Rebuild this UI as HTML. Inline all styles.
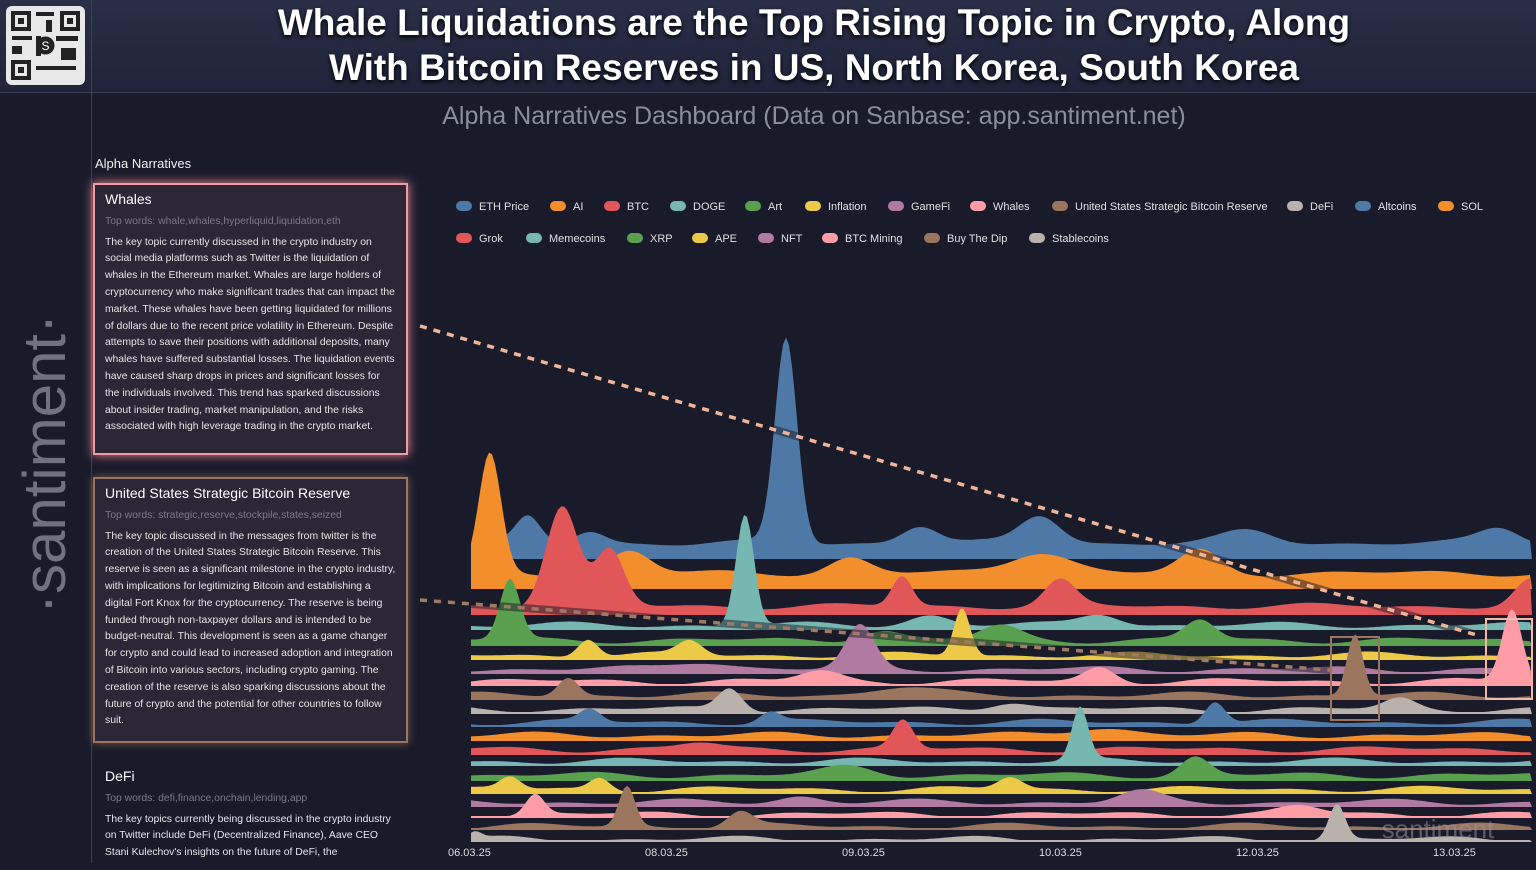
<!DOCTYPE html>
<html><head><meta charset="utf-8"><style>
*{margin:0;padding:0;box-sizing:border-box}
body{width:1536px;height:863px;overflow:hidden;background:#191b2b;font-family:"Liberation Sans",sans-serif;position:relative;color:#ddd}
.hdr{position:absolute;left:0;top:0;width:1536px;height:93px;background:linear-gradient(#2a2e46,#20233a);border-bottom:1px solid #3c4058}
.vl{position:absolute;left:91px;top:0;width:1px;height:863px;background:#3c4058}
.title{position:absolute;left:92px;width:1444px;top:0;text-align:center;color:#fff;font-weight:bold;font-size:37px;line-height:45px;text-shadow:0 2px 4px #000}
.qr{position:absolute;left:6px;top:6px;width:79px;height:79px;background:#e8e8e8;border-radius:6px}
.sub{position:absolute;left:92px;width:1444px;top:102px;text-align:center;color:#8b8e9c;font-size:25px}
.san{position:absolute;left:-105px;top:428px;transform:rotate(-90deg);font-size:60px;line-height:72px;color:#707282;width:300px;text-align:center}
.an{position:absolute;left:95px;top:156px;font-size:13px;color:#eee}
.card{position:absolute;left:93px;width:315px;padding:6px 10px;background:#2b2737;font-size:10.4px;line-height:16.8px;color:#e6e6e6}
.card h3{font-weight:normal;font-size:14px;margin:0 0 6px;color:#fff}
.card .tw{color:#7c7a88;margin-bottom:4px}
.lg{position:absolute;font-size:11px;color:#e0e0e0;white-space:nowrap}
.lg i{display:inline-block;width:16px;height:10px;border-radius:5px;margin-right:7px;vertical-align:-1px}
.tick{position:absolute;top:847px;font-size:11px;color:#ddd}
</style></head><body>
<div class="hdr"></div><div class="vl"></div>
<div class="qr"><svg width="79" height="79"><g fill="#222"><rect x="5" y="5" width="20" height="20"/><rect x="54" y="5" width="20" height="20"/><rect x="5" y="54" width="20" height="20"/></g><g fill="#e8e8e8"><rect x="9" y="9" width="12" height="12"/><rect x="58" y="9" width="12" height="12"/><rect x="9" y="58" width="12" height="12"/></g><g fill="#222"><rect x="12" y="12" width="6" height="6"/><rect x="61" y="12" width="6" height="6"/><rect x="12" y="61" width="6" height="6"/><rect x="30" y="6" width="18" height="4"/><rect x="30" y="30" width="5" height="20"/><rect x="6" y="30" width="20" height="4"/><rect x="50" y="30" width="22" height="5"/><rect x="30" y="60" width="40" height="4"/><rect x="40" y="14" width="6" height="12"/><rect x="6" y="40" width="10" height="8"/><rect x="55" y="42" width="15" height="12"/></g><circle cx="39.5" cy="39.5" r="9" fill="#222"/><text x="39.5" y="44" font-size="12" fill="#fff" text-anchor="middle">S</text></svg></div>
<div class="title">Whale Liquidations are the Top Rising Topic in Crypto, Along<br>With Bitcoin Reserves in US, North Korea, South Korea</div>
<div class="sub">Alpha Narratives Dashboard (Data on Sanbase: app.santiment.net)</div>
<div class="san">·santiment·</div>
<div class="an">Alpha Narratives</div>
<div class="card" style="top:183px;height:272px;border:2px solid #f29aa3;box-shadow:0 0 10px #f08a94">
<h3>Whales</h3><div class="tw">Top words: whale,whales,hyperliquid,liquidation,eth</div>
The key topic currently discussed in the crypto industry on social media platforms such as Twitter is the liquidation of whales in the Ethereum market. Whales are large holders of cryptocurrency who make significant trades that can impact the market. These whales have been getting liquidated for millions of dollars due to the recent price volatility in Ethereum. Despite attempts to save their positions with additional deposits, many whales have suffered substantial losses. The liquidation events have caused sharp drops in prices and significant losses for the individuals involved. This trend has sparked discussions about insider trading, market manipulation, and the risks associated with high leverage trading in the crypto market.</div>
<div class="card" style="top:477px;height:266px;border:2px solid #9c755f;box-shadow:0 0 8px #7a5a48">
<h3>United States Strategic Bitcoin Reserve</h3><div class="tw">Top words: strategic,reserve,stockpile,states,seized</div>
The key topic discussed in the messages from twitter is the creation of the United States Strategic Bitcoin Reserve. This reserve is seen as a significant milestone in the crypto industry, with implications for legitimizing Bitcoin and establishing a digital Fort Knox for the cryptocurrency. The reserve is being funded through non-taxpayer dollars and is intended to be budget-neutral. This development is seen as a game changer for crypto and could lead to increased adoption and integration of Bitcoin into various sectors, including crypto gaming. The creation of the reserve is also sparking discussions about the future of crypto and the potential for other countries to follow suit.</div>
<div class="card" style="top:760px;height:110px;background:transparent;border:2px solid transparent">
<h3>DeFi</h3><div class="tw">Top words: defi,finance,onchain,lending,app</div>
The key topics currently being discussed in the crypto industry on Twitter include DeFi (Decentralized Finance), Aave CEO Stani Kulechov's insights on the future of DeFi, the</div>
<div id="lgd"></div>
<svg id="ch" width="1536" height="863" style="position:absolute;left:0;top:0"></svg>
<div class="tick" style="left:448px">06.03.25</div><div class="tick" style="left:645px">08.03.25</div><div class="tick" style="left:842px">09.03.25</div><div class="tick" style="left:1039px">10.03.25</div><div class="tick" style="left:1236px">12.03.25</div><div class="tick" style="left:1433px">13.03.25</div>
<script>
var C=["#4e79a7","#f28e2b","#e15759","#76b7b2","#59a14f","#edc948","#b07aa1","#ff9da7","#9c755f","#bab0ac"];
var names=["ETH Price","AI","BTC","DOGE","Art","Inflation","GameFi","Whales","United States Strategic Bitcoin Reserve","DeFi","Altcoins","SOL","Grok","Memecoins","XRP","APE","NFT","BTC Mining","Buy The Dip","Stablecoins"];
var lx=[456,550,604,670,745,805,888,970,1052,1287,1355,1438,456,526,627,692,758,822,924,1029];
var h="";for(var i=0;i<20;i++){h+='<div class="lg" style="left:'+lx[i]+'px;top:'+(i<12?201:233)+'px"><i style="background:'+C[i%10]+'"></i>'+names[i]+'</div>';}
document.getElementById("lgd").innerHTML=h;
var base=[559,589,615,630,646,660,674,686,700,714,727,741,755,766,781,794,807,818,830,842];
var thick=[16,16,9,5,6,5,5,5,5,5,5,6,6,5,6,5,5,4,4,3];
var peaks=[[[786,205,11],[528,25,12],[590,12,15],[1040,28,20],[920,18,18],[1250,12,25],[1500,15,20]],
[[490,118,11],[630,22,20],[850,15,20],[1040,22,30],[1200,22,20]],
[[562,100,16],[610,55,14],[902,30,10],[1060,25,15],[1530,25,15]],
[[745,112,9],[1100,12,20],[930,10,20]],
[[510,60,10],[1200,20,15],[880,10,20],[1000,14,20]],
[[962,48,8],[588,18,10],[690,14,12]],
[[860,42,14],[700,8,30]],
[[1512,72,10],[1100,14,15],[820,10,20]],
[[568,18,10],[1355,62,8],[900,8,30]],
[[730,22,12],[1010,8,20],[1400,10,15]],
[[1215,22,10],[590,12,10],[770,10,10]],
[[1100,8,30]],[[903,28,10],[700,6,20]],[[1080,52,8]],[[1195,18,14],[850,8,25]],
[[510,12,10],[600,12,10],[1010,12,12]],[[1140,10,20],[800,6,20]],[[535,20,9],[1300,8,20]],[[627,40,8],[740,14,12]],[[1337,35,8],[475,6,6]]];
var s="";var x0=471,x1=1532;
for(var k=0;k<20;k++){var b=base[k],d="M"+x0+","+b;
for(var x=x0;x<=x1;x+=3){var y=thick[k]+2*Math.sin(x/37+k*1.7)+1.5*Math.sin(x/19+k);
peaks[k].forEach(function(p){y+=p[1]*Math.exp(-Math.pow((x-p[0])/p[2],2)/2)});
d+=" L"+x+","+(b-Math.max(y,2)).toFixed(1);}
d+=" L"+x1+","+b+" Z";s+='<path d="'+d+'" fill="'+C[k%10]+'"/>';}
s+='<path d="M420,326 L1480,636" stroke="#1a1b26" stroke-width="8" opacity="0.5"/><path d="M420,326 L1480,636" stroke="#f0b49a" stroke-width="3.5" stroke-dasharray="7,7"/>';
s+='<path d="M420,600 L1330,670" stroke="#1a1b26" stroke-width="8" opacity="0.5"/><path d="M420,600 L1330,670" stroke="#a07a64" stroke-width="3.5" stroke-dasharray="7,7"/>';
s+='<rect x="1331" y="637" width="48" height="83" fill="none" stroke="#9c755f" stroke-width="2"/><rect x="1486" y="619" width="46" height="80" fill="none" stroke="#f3b7a4" stroke-width="2"/>';
s+='<text x="1438" y="838" font-size="26" fill="#9a9aa6" opacity="0.5" text-anchor="middle" font-family="Liberation Sans">santiment</text>';
document.getElementById("ch").innerHTML=s;
</script>
</body></html>
